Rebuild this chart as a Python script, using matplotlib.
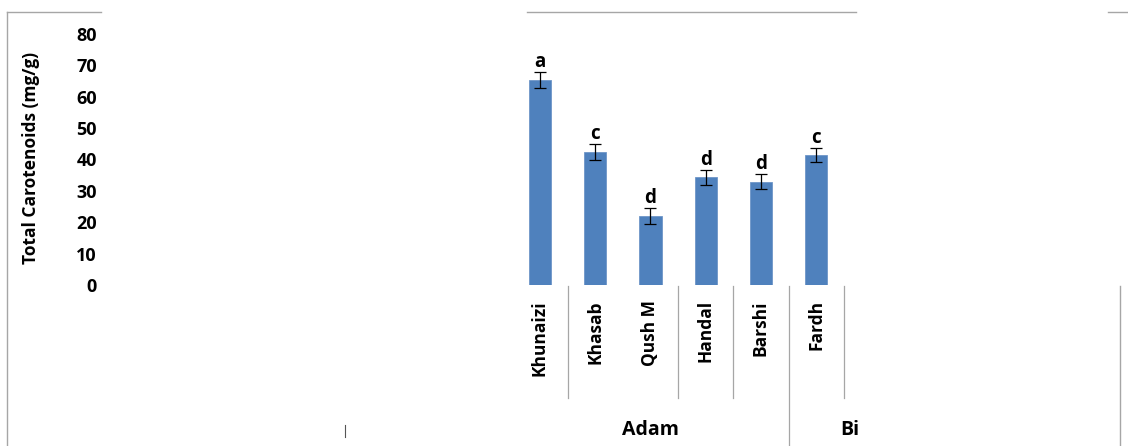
import matplotlib
matplotlib.use("Agg")
import matplotlib.pyplot as plt
from matplotlib.lines import Line2D

plt.rcParams['font.family'] = ['Open Sans', 'DejaVu Sans']
plt.rcParams['font.weight'] = 'bold'

cultivars = ['Khunaizi', 'Khasab', 'Qush M', 'Handal', 'Barshi', 'Fardh']
carotenoids = [65.3, 42.3, 22.0, 34.3, 32.9, 41.4]
errors = [2.5, 2.5, 2.5, 2.5, 2.4, 2.3]
letters = ['a', 'c', 'd', 'd', 'd', 'c']
groups = ['Adam', 'Bi']
yticks = [0, 10, 20, 30, 40, 50, 60, 70, 80]

W, H = 1128, 446
fig = plt.figure(figsize=(W / 100, H / 100), dpi=100)
ax = fig.add_axes([104 / W, (H - 285) / H, (856 - 104) / W, 251 / H])

x = list(range(len(cultivars)))
ax.bar(x, carotenoids, width=0.4, color='#4f81bd', edgecolor='#6f96c8', linewidth=0.6, zorder=2)
ax.errorbar(x, carotenoids, yerr=errors, fmt='none', ecolor='black',
            elinewidth=0.9, capsize=4, capthick=0.9, zorder=3)
for xi, v, e, t in zip(x, carotenoids, errors, letters):
    ax.annotate(t, (xi, v + e), xytext=(0, 0), textcoords='offset points',
                ha='center', va='bottom', fontsize=13.5, fontweight='bold')

ax.set_xlim(-7.89, 5.72)
ax.set_ylim(0, 80)
ax.set_yticks(yticks)
ax.set_yticklabels([str(t) for t in yticks], fontsize=13, fontweight='bold')
ax.tick_params(axis='y', length=0, pad=5)
ax.set_xticks([])
for s in ax.spines.values():
    s.set_visible(False)

fig.text(31 / W, (H - 158) / H, 'Total Carotenoids (mg/g)', rotation=90,
         ha='center', va='center', fontsize=12.5, fontweight='bold')

# category labels under the bars
tr = ax.get_xaxis_transform()
for xi, name in zip(x, cultivars):
    ax.text(xi, -0.06, name, transform=tr, rotation=90, ha='center', va='top',
            fontsize=12.5, fontweight='bold')

# separators between categories
sep_color = '#a6a6a6'
for sx in [0.5, 2.5, 3.5, 5.5]:
    ax.plot([sx, sx], [-0.004, -0.45], transform=tr, color=sep_color, lw=0.9, clip_on=False)
ax.plot([4.5, 4.5], [-0.004, -0.65], transform=tr, color=sep_color, lw=0.9, clip_on=False)

ax.text(2.0, -0.578, groups[0], transform=tr, ha='center', va='center', fontsize=14, fontweight='bold')
ax.text(5.43, -0.578, groups[1], transform=tr, ha='left', va='center', fontsize=14, fontweight='bold')

# pieces of the outer frame
def fline(x0, y0, x1, y1, c='#a6a6a6', lw=1.0):
    fig.add_artist(Line2D([x0 / W, x1 / W], [1 - y0 / H, 1 - y1 / H], color=c, lw=lw))

fline(7, 12, 101, 12)
fline(527, 12, 856, 12)
fline(1108, 12, 1128, 12)
fline(7, 12, 7, 446)
fline(1120, 286, 1120, 446)
fline(345, 425, 345, 437, c='#555555', lw=0.8)

fig.savefig('out.png', dpi=100)
